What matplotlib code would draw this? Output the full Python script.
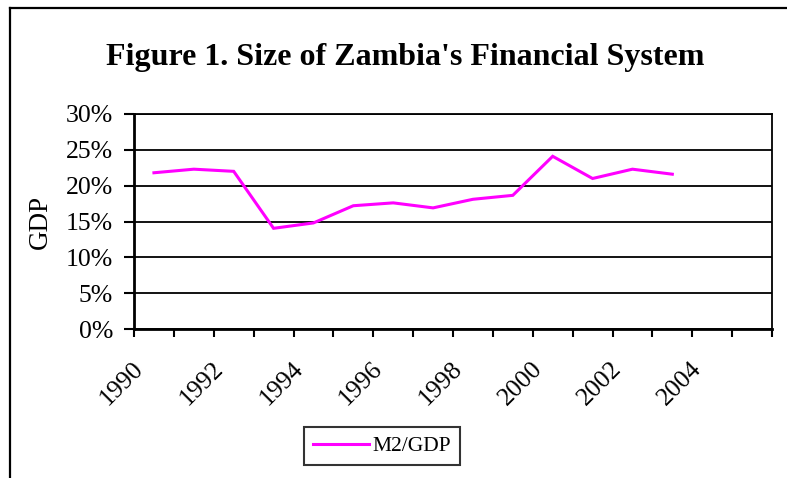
import matplotlib
matplotlib.use("Agg")
import matplotlib.pyplot as plt
import matplotlib.transforms as mtransforms
from matplotlib.lines import Line2D
from matplotlib.ticker import FuncFormatter

plt.rcParams['font.family'] = ['Liberation Serif', 'DejaVu Serif']

# data
years = list(range(1990, 2006))
m2_gdp = [21.8, 22.3, 22.0, 14.05, 14.8, 17.2, 17.6, 16.9, 18.1, 18.65,
          24.1, 21.0, 22.3, 21.6]
year_labels = [str(y) for y in years[::2]]
y_ticks = [0, 5, 10, 15, 20, 25, 30]

fig = plt.figure(figsize=(7.87, 4.78), dpi=100)
ax = fig.add_axes([134 / 787, 1 - 329 / 478, (772 - 134) / 787, (329 - 114) / 478])

# points sit in the middle of each year slot
xs = [i + 0.5 for i in range(len(m2_gdp))]
ax.plot(xs, m2_gdp, color='#FF00FF', lw=2.2, label='M2/GDP', solid_joinstyle='miter')

ax.set_xlim(0, len(years))
ax.set_ylim(0, 30)
ax.set_yticks(y_ticks)
ax.yaxis.set_major_formatter(FuncFormatter(lambda v, p: f"{v:.0f}%"))
ax.grid(axis='y', color='black', lw=1.3)
ax.set_axisbelow(True)

# tick marks on the slot edges, labels under the slot centres
ax.set_xticks(range(len(years) + 1))
ax.set_xticklabels([])
ax.set_xticks([i + 0.5 for i in range(0, len(years), 2)], minor=True)
ax.set_xticklabels(year_labels, minor=True, rotation=45, ha='right', va='center',
                   rotation_mode='anchor', fontsize=18.5)
ax.tick_params(axis='x', which='minor', length=0, pad=26)
ax.tick_params(axis='x', which='major', length=6, width=1.5, direction='out')
ax.tick_params(axis='y', length=7, width=1.5, direction='out', labelsize=18.5, pad=8)

shift = mtransforms.ScaledTranslation(-14 / 100, 0, fig.dpi_scale_trans)
for lab in ax.get_xticklabels(minor=True):
    lab.set_transform(lab.get_transform() + shift)

for side in ['left', 'bottom']:
    ax.spines[side].set_linewidth(2)
ax.spines['top'].set_linewidth(1.3)
ax.spines['right'].set_linewidth(1.3)

ax.set_ylabel('GDP', fontsize=19.5)
ax.yaxis.set_label_coords((53 - 134) / (772 - 134), 0.5)

fig.text(405 / 787, 1 - 57 / 478, "Figure 1. Size of Zambia's Financial System",
         ha='center', va='center', fontsize=23, fontweight='bold')

leg = fig.legend(loc='center', bbox_to_anchor=(382 / 787, 1 - 446 / 478), fontsize=15.5,
                 frameon=True, fancybox=False, handlelength=2.6, borderpad=0.4,
                 handletextpad=0.15)
leg.get_frame().set_edgecolor('black')
leg.get_frame().set_linewidth(1.5)

# outer chart border (only top and left edges fall inside the picture)
fig.add_artist(Line2D([10 / 787, 1], [1 - 7.5 / 478, 1 - 7.5 / 478], color='black', lw=1.6))
fig.add_artist(Line2D([10 / 787, 10 / 787], [0, 1 - 7.5 / 478], color='black', lw=1.6))

fig.savefig('out.png', dpi=100)
